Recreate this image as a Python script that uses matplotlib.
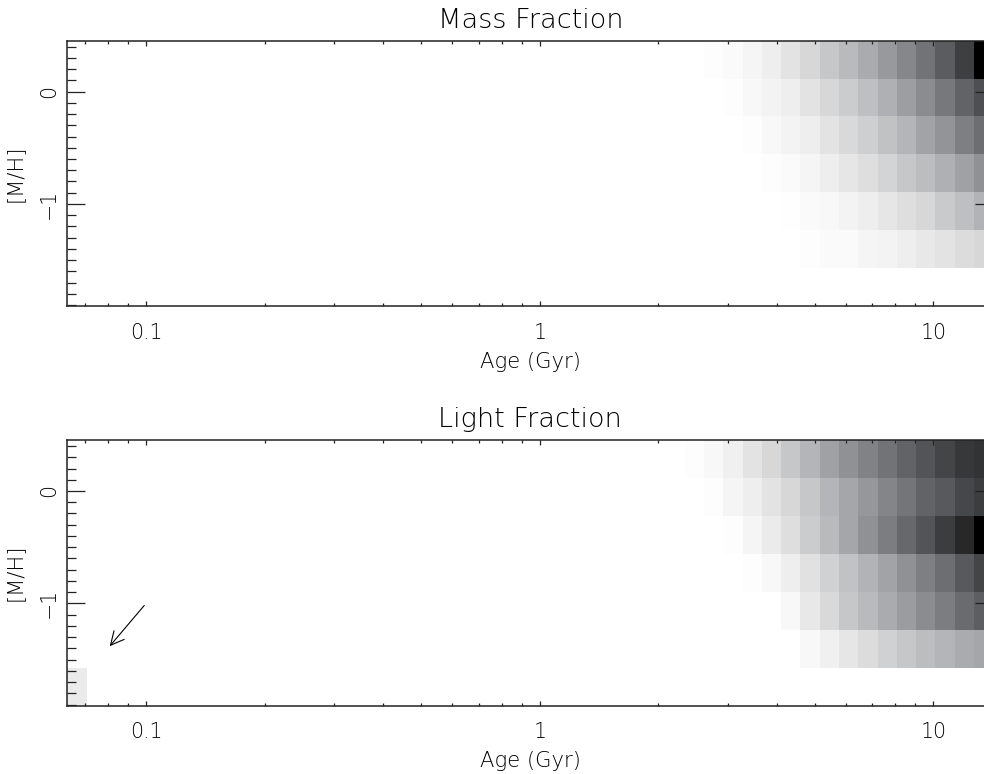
import numpy as np
import matplotlib
matplotlib.use('Agg')
import matplotlib.pyplot as plt
from matplotlib import font_manager
from matplotlib.colors import LinearSegmentedColormap
from matplotlib.ticker import MultipleLocator, LogLocator, FuncFormatter, NullFormatter

# age grid: log10(age/Gyr) bins of equal width
log_age_start = -1.2
log_age_step = 0.049
n_age = 48
# metallicity grid, [M/H] of each row (top row first)
metal = [0.285, -0.053, -0.39, -0.728, -1.065, -1.403, -1.74]
metal_step = 0.3376

# weights, columns 32..47 (oldest ages), rows as in `metal`
first_col = 32
mass_rows = [
    [0, .01, .02, .04, .07, .11, .16, .22, .27, .33, .40, .47, .55, .64, .75, 1.0],
    [0, 0, .01, .03, .05, .07, .11, .16, .20, .25, .31, .38, .45, .53, .61, .69],
    [0, 0, 0, .01, .03, .05, .07, .11, .15, .19, .24, .29, .36, .42, .50, .57],
    [0, 0, 0, 0, .01, .02, .04, .07, .10, .13, .17, .22, .26, .31, .37, .43],
    [0, 0, 0, 0, 0, .005, .02, .03, .05, .07, .10, .13, .16, .21, .25, .30],
    [0, 0, 0, 0, 0, 0, .01, .02, .02, .04, .05, .07, .09, .11, .14, .16],
    [0, 0, 0, 0, 0, 0, 0, 0, 0, 0, 0, 0, 0, 0, 0, 0],
]
light_rows = [
    [.01, .03, .06, .11, .16, .22, .29, .37, .43, .49, .55, .61, .67, .73, .78, .80],
    [0, .01, .04, .07, .11, .16, .22, .29, .35, .41, .48, .54, .61, .65, .72, .76],
    [0, 0, .01, .04, .08, .13, .20, .27, .35, .43, .51, .59, .67, .76, .84, 1.0],
    [0, 0, 0, .01, .03, .07, .12, .18, .24, .30, .36, .43, .50, .57, .65, .73],
    [0, 0, 0, 0, 0, .03, .09, .15, .22, .27, .33, .39, .45, .51, .58, .63],
    [0, 0, 0, 0, 0, 0, .03, .06, .10, .14, .18, .22, .26, .29, .33, .35],
    [0, 0, 0, 0, 0, 0, 0, 0, 0, 0, 0, 0, 0, 0, 0, 0],
]
# one young, metal-poor template in the light fraction (column 0, bottom row)
light_young = 0.08

# thin strokes like the IDL vector font: take a light face if one is installed
font_family, font_weight = 'DejaVu Sans', 'normal'
for fam in ['DejaVu Sans', 'Open Sans', 'Roboto', 'Lato', 'Noto Sans', 'Inter']:
    light = [f for f in font_manager.fontManager.ttflist
             if f.name == fam and isinstance(f.weight, int) and f.weight <= 300
             and f.style == 'normal']
    if light:
        font_family, font_weight = fam, max(f.weight for f in light)
        break
plt.rcParams['font.family'] = font_family
plt.rcParams['font.weight'] = font_weight
plt.rcParams['axes.titleweight'] = font_weight
plt.rcParams['axes.labelweight'] = font_weight

cmap = LinearSegmentedColormap.from_list('idlgray', ['#ffffff', '#7e7f84', '#000000'])


def weight_grid(rows, young=0.0):
    w = np.zeros((len(metal), n_age))
    w[:, first_col:] = np.array(rows)
    w[-1, 0] = young
    return w


age_edges = 10 ** (log_age_start + log_age_step * np.arange(n_age + 1))
metal_edges = np.append(np.array(metal) + metal_step / 2, metal[-1] - metal_step / 2)

fig = plt.figure(figsize=(9.84, 7.74), dpi=100)
W, H = 984.0, 774.0
left, right = 67.3, 993.3
panels = [(40.7, 306.0, 'Mass Fraction', weight_grid(mass_rows)),
          (440.0, 705.5, 'Light Fraction', weight_grid(light_rows, light_young))]

axes = []
for top, bot, title, w in panels:
    ax = fig.add_axes([left / W, 1 - bot / H, (right - left) / W, (bot - top) / H])
    ax.pcolormesh(age_edges, metal_edges, w, cmap=cmap, vmin=0, vmax=w.max(),
                  shading='flat')
    ax.set_xscale('log')
    ax.set_xlim(age_edges[0], age_edges[-1])
    ax.set_ylim(metal_edges[-1], metal_edges[0])
    ax.xaxis.set_major_locator(LogLocator(base=10))
    ax.xaxis.set_minor_locator(LogLocator(base=10, subs=np.arange(2, 10)))
    ax.xaxis.set_major_formatter(FuncFormatter(lambda v, p: f'{v:g}'))
    ax.xaxis.set_minor_formatter(NullFormatter())
    ax.yaxis.set_major_locator(MultipleLocator(1))
    ax.yaxis.set_minor_locator(MultipleLocator(0.1))
    ax.tick_params(which='both', direction='in', top=True, right=True,
                   color='#222222', width=0.9, labelsize=14.8, labelcolor='black')
    ax.tick_params(axis='x', which='major', length=3.6, pad=12)
    ax.tick_params(axis='x', which='minor', length=2.2)
    ax.tick_params(axis='y', which='major', length=13, pad=6, labelrotation=90)
    ax.tick_params(axis='y', which='minor', length=6.5)
    for lab in ax.get_yticklabels():
        lab.set_va('center')
    for sp in ax.spines.values():
        sp.set_linewidth(1.1)
        sp.set_color('#222222')
    ax.set_title(title, fontsize=19.5, pad=9)
    ax.set_xlabel('Age (Gyr)', fontsize=15.2, labelpad=6.5)
    ax.set_ylabel('[M/H]', fontsize=15.2, labelpad=10)
    axes.append(ax)

axes[1].annotate('', xy=(0.08, -1.40), xytext=(0.1, -1.0),
                 arrowprops=dict(arrowstyle='->', lw=0.8, color='k', mutation_scale=24))

fig.savefig('out.png', dpi=100)
